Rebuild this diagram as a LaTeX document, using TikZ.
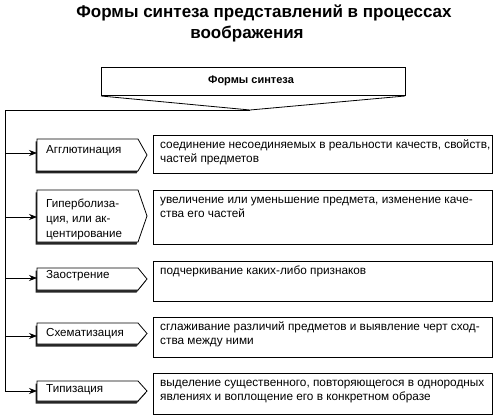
\documentclass[tikz,border=0pt]{standalone}
\usepackage{fontspec}
\setmainfont{Liberation Sans}
\usetikzlibrary{arrows.meta}
\begin{document}
\begin{tikzpicture}[x=1pt,y=-1pt,line join=miter]
\useasboundingbox (0,0) rectangle (499,420);
\tikzset{
 lbl/.style={font=\fontsize{11.6}{15}\selectfont, align=left, inner sep=0pt, anchor=west},
 desc/.style={font=\fontsize{11.8}{13.8}\selectfont, align=left, inner sep=0pt, anchor=north west},
 frame/.style={draw=black, line width=0.8pt, fill=white},
 shade/.style={fill=black!85, draw=none},
 arr/.style={line width=0.7pt, -{Stealth[length=8pt,width=6pt]}},
 trunkline/.style={line width=0.7pt},
 ttl/.style={font=\bfseries\fontsize{17}{20}\selectfont, inner sep=0pt},
}
% title
\node[ttl] (title1) at (264,13) {Формы синтеза представлений в процессах};
\node[ttl] (title2) at (247,34) {воображения};
% header
\draw[frame] (101,67) rectangle (405,95);
\draw[line width=1.6pt] (101,95.5) -- (405,95.5);
\draw[line width=0.8pt] (101,96) -- (250,110) -- (405,96);
\node[font=\bfseries\fontsize{11}{13}\selectfont, inner sep=0pt] (hdr) at (251,81) {Формы синтеза};
\coordinate (tip) at (250,110);
\coordinate (top) at (5,110);
% left boxes
\foreach \n/\t/\b/\a/\ty/\txt in {
 1/139/171/153/151/{Агглютинация},
 2/190/242/217/219/{Гиперболиза-\\ция, или ак-\\центирование},
 3/268/290/278/276/{Заострение},
 4/323/344/336/334/{Схематизация},
 5/381/401/391/390/{Типизация}}{
 \pgfmathsetmacro\m{(\t+\b)/2}
 \fill[shade] (35.5,\t+2.5) -- (136.5,\t+2.5) -- (145.5,\m+2.5) -- (136.5,\b+2.5) -- (35.5,\b+2.5) -- cycle;
 \draw[frame] (37,\t) -- (138,\t) -- (147,\m) -- (138,\b) -- (37,\b) -- cycle;
 \node[lbl] (l\n) at (46,\ty) {\txt};
 \coordinate (in\n) at (37,\a);
}
% right boxes
\foreach \n/\t/\b/\txt in {
 1/135/173/{соединение несоединяемых в реальности качеств, свойств,\\частей предметов},
 2/190/244/{увеличение или уменьшение предмета, изменение каче-\\ства его частей},
 3/261/301/{подчеркивание каких-либо признаков},
 4/317/357/{сглаживание различий предметов и выявление черт сход-\\ства между ними},
 5/373/414/{выделение существенного, повторяющегося в однородных\\явлениях и воплощение его в конкретном образе}}{
 \draw[frame] (153,\t) rectangle (492,\b);
 \node[desc] (d\n) at (160,\t+4) {\strut\txt};
}
% connectors
\draw[trunkline] (tip) -- (top) -- (top |- in5);
\foreach \n in {1,...,5} \draw[arr] (top |- in\n) -- (in\n);
\end{tikzpicture}
\end{document}
